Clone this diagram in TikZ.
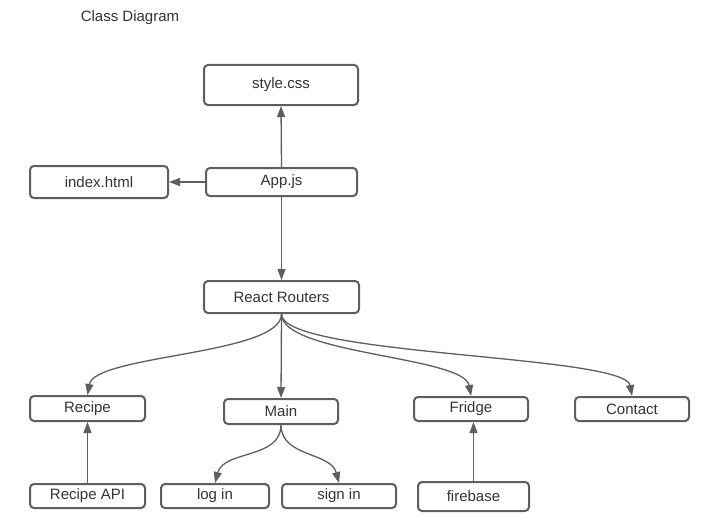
\documentclass[tikz,border=0pt]{standalone}
\usepackage{fontspec}
\setmainfont{Liberation Sans}
\usetikzlibrary{arrows.meta}
\definecolor{linegray}{HTML}{5E5E5E}
\definecolor{textgray}{HTML}{333333}
\tikzset{
  box/.style={draw=linegray, line width=2pt, rounded corners=4pt, inner sep=0pt,
    text=textgray, font=\fontsize{15}{18}\selectfont},
  link/.style={draw=linegray, line width=1.3pt, -{Triangle[length=11pt,width=8pt]}},
}
\begin{document}
\begin{tikzpicture}[x=1pt, y=-1pt]
  \useasboundingbox (0,0) rectangle (709,527);

  \node[text=textgray, font=\fontsize{15}{18}\selectfont] (title) at (130,18) {Class Diagram};

  \node[box, minimum width=154pt, minimum height=40pt] (style) at (281,85) {style.css};
  \node[box, minimum width=138pt, minimum height=32pt] (index) at (99,182) {index.html};
  \node[box, minimum width=151pt, minimum height=28pt] (app) at (281.5,182) {App.js};
  \node[box, minimum width=155pt, minimum height=32pt] (routers) at (281.5,297) {React Routers};

  \node[box, minimum width=115pt, minimum height=25pt] (recipe) at (87.5,408.5) {Recipe};
  \node[box, minimum width=114pt, minimum height=25pt] (main) at (281,411.5) {Main};
  \node[box, minimum width=114pt, minimum height=24pt] (fridge) at (471,409) {Fridge};
  \node[box, minimum width=114pt, minimum height=24pt] (contact) at (632,409) {Contact};

  \node[box, minimum width=115pt, minimum height=24pt] (recipeapi) at (87.5,496) {Recipe API};
  \node[box, minimum width=108pt, minimum height=24pt] (login) at (215,496) {log in};
  \node[box, minimum width=114pt, minimum height=24pt] (signin) at (339,496) {sign in};
  \node[box, minimum width=111pt, minimum height=29pt] (firebase) at (473.5,496.5) {firebase};

  \draw[link] (app.north) -- (style.south);
  \draw[link] (app.west) -- (index.east);
  \draw[link] (app.south) -- (routers.north);

  \draw[link] (routers.south) to[out=-90, in=80, looseness=0.5] (recipe.north);
  \draw[link] (routers.south) -- (main.north);
  \draw[link] (routers.south) to[out=-90, in=100, looseness=0.5] (fridge.north);
  \draw[link] (routers.south) to[out=-90, in=100, looseness=0.3] (contact.north);

  \draw[link] (main.south) to[out=-90, in=75] (login.north);
  \draw[link] (main.south) to[out=-90, in=105] (signin.north);

  \draw[link] (recipeapi.north) -- (recipe.south);
  \draw[link] (firebase.north) -- (firebase.north |- fridge.south);
\end{tikzpicture}
\end{document}
